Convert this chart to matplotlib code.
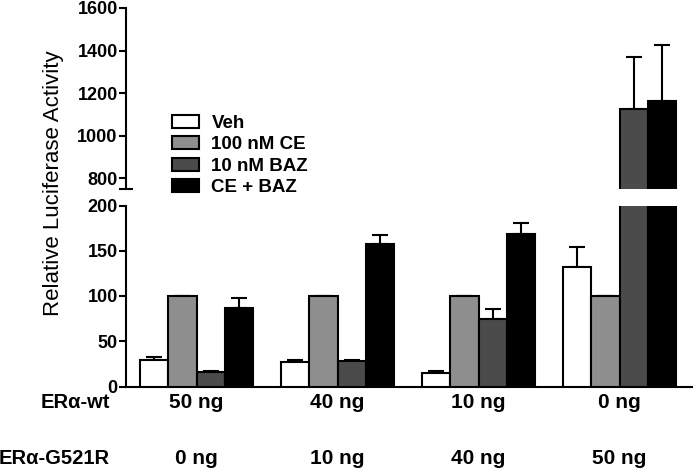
import numpy as np
import matplotlib.pyplot as plt
import matplotlib.transforms as mtransforms
from matplotlib.patches import Patch

plt.rcParams["font.family"] = ["Liberation Sans", "DejaVu Sans"]

treatments = ["Veh", "100 nM CE", "10 nM BAZ", "CE + BAZ"]
colors = ["#ffffff", "#8e8e8e", "#4b4b4b", "#000000"]
wt_amounts = ["50 ng", "40 ng", "10 ng", "0 ng"]
mut_amounts = ["0 ng", "10 ng", "40 ng", "50 ng"]

# mean values per treatment, one entry per transfection group
veh = [29, 27, 15, 132]
ce = [100, 100, 100, 100]
baz = [16, 28, 75, 1128]
ce_baz = [87, 157, 169, 1162]
# upper error (SEM)
veh_err = [3.5, 2, 2, 22]
ce_err = [0, 0, 0, 0]
baz_err = [1, 1, 11, 240]
ce_baz_err = [11, 10, 12, 265]

means = [veh, ce, baz, ce_baz]
errs = [veh_err, ce_err, baz_err, ce_baz_err]

W, H = 694, 471
LW = 1.5


def draw_bars(ax):
    x = np.arange(len(wt_amounts))
    w = 0.2
    for i, (m, e, c) in enumerate(zip(means, errs, colors)):
        pos = x + (i - 1.5) * w
        ax.bar(pos, m, width=w, color=c, edgecolor="black", linewidth=LW, zorder=3)
        ax.errorbar(pos, m, yerr=[np.zeros(len(e)), e], fmt="none", ecolor="black",
                    elinewidth=LW, capsize=5.5, capthick=LW, zorder=2)
    ax.set_xlim(-0.5, 3.514)
    ax.set_xticks([])
    for s in ["top", "right"]:
        ax.spines[s].set_visible(False)
    ax.spines["left"].set_linewidth(LW)
    ax.spines["bottom"].set_linewidth(LW)
    ax.tick_params(axis="y", direction="out", length=5, width=LW, labelsize=13, pad=1)


fig = plt.figure(figsize=(W / 100, H / 100), dpi=100)
ax_top = fig.add_axes([126 / W, 1 - 189 / H, 566 / W, (189 - 8) / H])
ax_bot = fig.add_axes([126 / W, 1 - 386.5 / H, 566 / W, (386.5 - 205.5) / H])

draw_bars(ax_top)
ax_top.set_ylim(750, 1600)
ax_top.set_yticks([800, 1000, 1200, 1400, 1600])
ax_top.set_yticks([750], minor=True)
ax_top.tick_params(axis="y", which="minor", direction="inout", length=10, width=LW)
ax_top.spines["bottom"].set_visible(False)
for lab in ax_top.get_yticklabels():
    lab.set_fontweight("bold")

draw_bars(ax_bot)
ax_bot.set_ylim(0, 200)
ax_bot.set_yticks([0, 50, 100, 150, 200])
ax_bot.patch.set_visible(False)
for lab in ax_bot.get_yticklabels():
    lab.set_fontweight("bold")

# legend
handles = [Patch(facecolor=c, edgecolor="black", linewidth=LW) for c in colors]
fig.legend(handles, treatments, loc="upper left", bbox_to_anchor=(172 / W, 1 - 115 / H),
           frameon=False, borderpad=0, borderaxespad=0, handlelength=1.45,
           handleheight=0.7, handletextpad=0.65, labelspacing=0.22,
           prop={"weight": "bold", "size": 13.5})

fig.text(54 / W, 1 - 183 / H, "Relative Luciferase Activity", rotation=90,
         ha="center", va="center", fontsize=16)

# transfection labels under the bars
trans = mtransforms.blended_transform_factory(ax_bot.transData, fig.transFigure)
fig.text(110 / W, 1 - 403 / H, "ERα-wt", ha="right", va="center", fontsize=14.5, fontweight="bold")
fig.text(110 / W, 1 - 458 / H, "ERα-G521R", ha="right", va="center", fontsize=14.5, fontweight="bold")
for i, (a, b) in enumerate(zip(wt_amounts, mut_amounts)):
    ax_bot.text(i, 1 - 403 / H, a, transform=trans, ha="center", va="center",
                fontsize=15, fontweight="bold")
    ax_bot.text(i, 1 - 458 / H, b, transform=trans, ha="center", va="center",
                fontsize=15, fontweight="bold")

fig.savefig("out.png", dpi=100)
